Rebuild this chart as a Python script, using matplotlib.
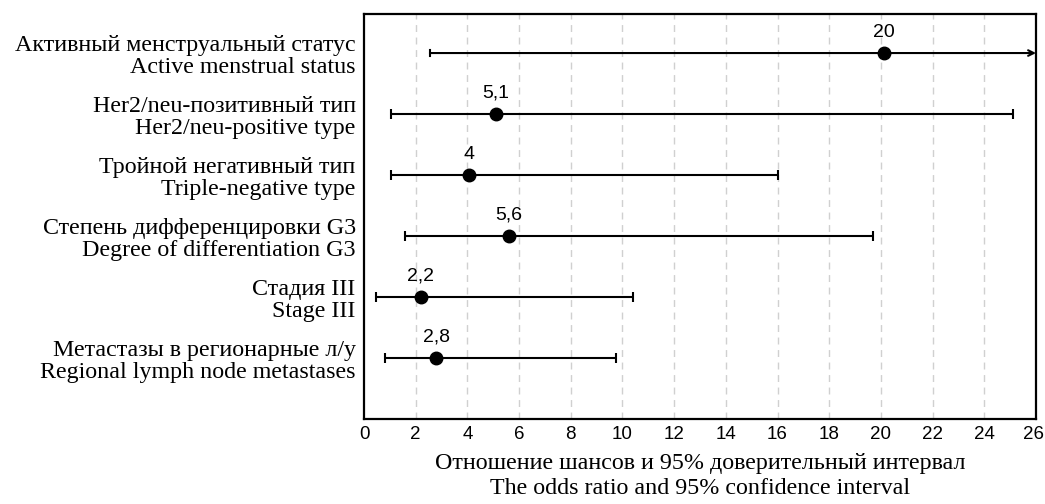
import numpy as np
import matplotlib.pyplot as plt
import matplotlib.transforms as mtransforms

# Data
labels = [
    "Активный менструальный статус\nActive menstrual status",
    "Her2/neu-позитивный тип\nHer2/neu-positive type",
    "Тройной негативный тип\nTriple-negative type",
    "Степень дифференцировки G3\nDegree of differentiation G3",
    "Стадия III\nStage III",
    "Метастазы в регионарные л/у\nRegional lymph node metastases",
]
odds = [20.1, 5.1, 4.05, 5.6, 2.2, 2.8]
ci_low = [2.55, 1.06, 1.05, 1.6, 0.45, 0.8]
ci_high = [26.0, 25.1, 16.0, 19.7, 10.4, 9.75]
open_high = [True, False, False, False, False, False]
point_text = ["20", "5,1", "4", "5,6", "2,2", "2,8"]
xticks = np.arange(0, 27, 2)

SERIF = ["Liberation Serif", "DejaVu Serif"]
SANS = ["Liberation Sans", "DejaVu Sans"]

fig = plt.figure(figsize=(10.45, 5.04), dpi=100)
ax = fig.add_axes([364 / 1045, 1 - 419 / 504, 672 / 1045, 405 / 504])

n = len(labels)
ypos = np.arange(n, 0, -1)

for i in range(n):
    y = ypos[i]
    if open_high[i]:
        ax.plot([ci_low[i], ci_low[i]], [y - 0.05, y + 0.05], color="black", lw=1.5)
        ax.annotate("", xy=(ci_high[i], y), xytext=(ci_low[i], y),
                    arrowprops=dict(arrowstyle="->", color="black", lw=1.5,
                                    shrinkA=0, shrinkB=0))
    else:
        ax.errorbar(odds[i], y, xerr=[[odds[i] - ci_low[i]], [ci_high[i] - odds[i]]],
                    fmt="none", ecolor="black", elinewidth=1.5, capsize=3.5, capthick=1.5)
    ax.plot(odds[i], y, "o", color="black", markersize=9, zorder=5)
    ax.text(odds[i], y + 0.2, point_text[i], ha="center", va="bottom",
            fontsize=14, family=SANS)

ax.set_xlim(0, 26)
ax.set_ylim(0, 6.64)
ax.set_xticks(xticks)
ax.set_xticklabels([str(t) for t in xticks], family=SANS, fontsize=13.5)
ax.tick_params(axis="x", length=0, pad=5)
# keep the last label inside the figure edge
last = ax.get_xticklabels()[-1]
last.set_transform(last.get_transform() + mtransforms.ScaledTranslation(-3 / 100, 0, fig.dpi_scale_trans))

ax.set_yticks(ypos)
ax.set_yticklabels(labels, family=SERIF, fontsize=17.3, linespacing=1.12)
ax.tick_params(axis="y", length=0, pad=6)
for t in ax.get_yticklabels():
    t.set_horizontalalignment("right")
    t.set_multialignment("right")

for x in xticks[1:-1]:
    ax.axvline(x, color="#d0d0d0", lw=1, ls=(0, (5, 4)), zorder=0)

for s in ax.spines.values():
    s.set_linewidth(1.6)
    s.set_color("black")

ax.set_xlabel("Отношение шансов и 95% доверительный интервал\nThe odds ratio and 95% confidence interval",
              family=SERIF, fontsize=17.3, labelpad=7, linespacing=1.25)

fig.savefig("out.png", dpi=100)
